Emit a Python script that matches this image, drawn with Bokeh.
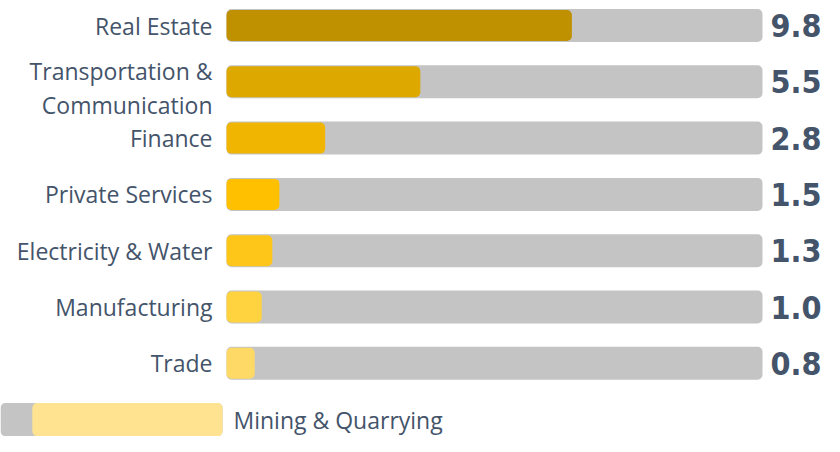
from bokeh.plotting import figure
from bokeh.models import ColumnDataSource, Range1d
from bokeh.core.properties import value
from bokeh.embed import file_html
from bokeh.resources import INLINE

# ---- data ----
sectors = ["Real Estate", "Transportation &\nCommunication", "Finance",
           "Private Services", "Electricity & Water", "Manufacturing", "Trade"]
values = [9.8, 5.5, 2.8, 1.5, 1.3, 1.0, 0.8]
value_labels = ["9.8", "5.5", "2.8", "1.5", "1.3", "1.0", "0.8"]
colors = ["#BF9000", "#DDA800", "#F0B500", "#FFC000", "#FFC61A", "#FFD23F", "#FFD966"]
last_sector = "Mining & Quarrying"
last_value = 5.4
last_color = "#FFE391"
track_max = 15.21
track_color = "#C4C4C4"

# ---- layout constants ----
TEXT = "#44546A"
W, H = 824, 436
X0, PX_PER_UNIT = 226, 35.24
Y0, ROW_PX = 25, 56.3
rows = list(range(len(sectors)))
last_row = len(sectors)
gap = 0.11

src = ColumnDataSource(dict(
    y=rows, value=values, color=colors, label=sectors, vlabel=value_labels,
    yoff=[6 if "\n" in s else 0 for s in sectors],
))

p = figure(width=W, height=H,
           x_range=Range1d(-X0 / PX_PER_UNIT, (W - X0) / PX_PER_UNIT),
           y_range=Range1d((H - Y0) / ROW_PX, -Y0 / ROW_PX),
           output_backend="svg", toolbar_location=None, min_border=0,
           outline_line_color=None)
p.axis.visible = False
p.grid.visible = False
p.background_fill_color = "white"

p.hbar(y="y", left=0, right=track_max, height=33 / ROW_PX, source=src,
       fill_color=track_color, line_color=None, border_radius=5)
p.hbar(y="y", left=0, right="value", height=31 / ROW_PX, source=src,
       fill_color="color", line_color=None, border_radius=5)

p.hbar(y=[last_row], left=[-gap - track_max], right=[-gap], height=33 / ROW_PX,
       fill_color=track_color, line_color=None, border_radius=5)
p.hbar(y=[last_row], left=[-gap - last_value], right=[-gap], height=33 / ROW_PX,
       fill_color=last_color, line_color=None, border_radius=5)

p.text(x=0, y="y", text="label", source=src, x_offset=-14, y_offset="yoff",
       text_align="right", text_baseline="middle", text_font=value("Open Sans"),
       text_font_size="23px", text_color=TEXT, text_line_height=1.07)
p.text(x=track_max, y="y", text="vlabel", source=src, x_offset=59,
       text_align="right", text_baseline="middle",
       text_font=value("DejaVu Sans Condensed"), text_font_style="bold",
       text_font_size="32px", text_color=TEXT)
p.text(x=[0], y=[last_row], text=[last_sector], x_offset=7,
       text_align="left", text_baseline="middle", text_font=value("Open Sans"),
       text_font_size="23px", text_color=TEXT)

open("out.html", "w").write(file_html(p, INLINE))
